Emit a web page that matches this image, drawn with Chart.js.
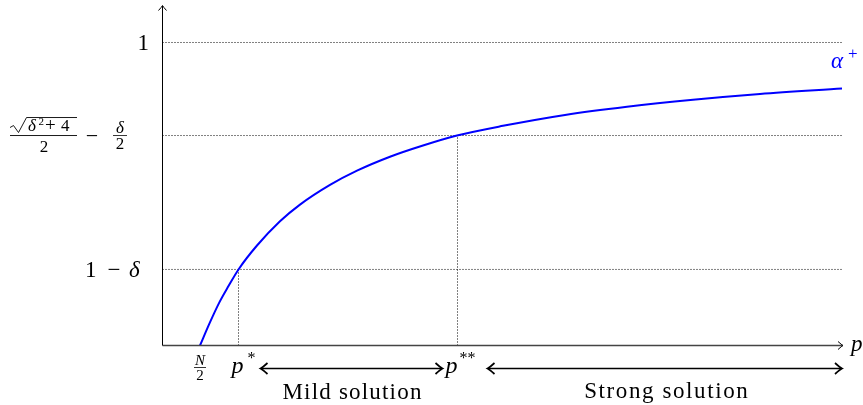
<!DOCTYPE html>
<html><head><meta charset="utf-8">
<script src="https://cdn.jsdelivr.net/npm/chart.js@4"></script>
<style>html,body{margin:0;padding:0;background:#fff}canvas{display:block}</style>
</head><body><canvas id="c" width="863" height="405"></canvas>
<script>
// curve alpha+(p) (arbitrary p units)
const pValues = [0.375, 0.47, 0.565, 0.66, 0.76, 0.945, 1.175, 1.375, 1.675, 1.945, 2.275, 2.605, 2.945, 3.405, 4.025, 4.645, 5.305, 5.975, 6.795];
const alphaValues = [0, 0.073, 0.14, 0.196, 0.251, 0.33, 0.41, 0.465, 0.53, 0.577, 0.623, 0.66, 0.693, 0.725, 0.761, 0.788, 0.811, 0.83, 0.848];
// y reference levels: 1, sqrt(d^2+4)/2 - d/2, 1 - d
const yLevels = [1, 0.693, 0.251];
// x marks: N/2, p*, p**
const xMarks = [0.375, 0.76, 2.95];
const regionLabels = ['Mild solution', 'Strong solution'];
const xMax = 6.805, yMax = 1.1221, guideEnd = 6.795;

const SERIF = '"Liberation Serif", "DejaVu Serif", serif';
const dotted = {borderColor: '#000', borderWidth: 1, borderDash: [1, 2], pointRadius: 0, showLine: true, fill: false};

const datasets = [
  {label: 'alpha+', data: pValues.map((p, i) => ({x: p, y: alphaValues[i]})), borderColor: '#0000ff', borderWidth: 2,
   pointRadius: 0, showLine: true, cubicInterpolationMode: 'monotone', fill: false},
  ...yLevels.map((v, i) => Object.assign({label: 'h' + i, data: [{x: 0, y: v}, {x: guideEnd, y: v}]}, dotted)),
  Object.assign({label: 'v1', data: [{x: xMarks[1], y: 0}, {x: xMarks[1], y: yLevels[2]}]}, dotted),
  Object.assign({label: 'v2', data: [{x: xMarks[2], y: 0}, {x: xMarks[2], y: yLevels[1]}]}, dotted)
];

function tipTo(ctx, x, y, ang, len, half) {
  ctx.save(); ctx.translate(x, y); ctx.rotate(ang);
  ctx.beginPath();
  ctx.moveTo(-len, -half);
  ctx.quadraticCurveTo(-len * 0.25, -half * 0.15, 0, 0);
  ctx.quadraticCurveTo(-len * 0.25, half * 0.15, -len, half);
  ctx.stroke(); ctx.restore();
}
function dblArrow(ctx, x1, x2, y) {
  ctx.save(); ctx.strokeStyle = '#000'; ctx.lineWidth = 1.7;
  ctx.beginPath(); ctx.moveTo(x1 + 1, y); ctx.lineTo(x2 - 1, y); ctx.stroke();
  tipTo(ctx, x1, y, Math.PI, 7, 5.5); tipTo(ctx, x2, y, 0, 7, 5.5);
  ctx.restore();
}
function frac(ctx, num, den, cx, cy, size, italicNum, barW) {
  ctx.save();
  ctx.textAlign = 'center'; ctx.textBaseline = 'alphabetic';
  ctx.font = (italicNum ? 'italic ' : '') + size + 'px ' + SERIF;
  const w = barW || (ctx.measureText(num).width + 3);
  ctx.fillText(num, cx, cy - 3);
  ctx.font = size + 'px ' + SERIF;
  ctx.fillText(den, cx, cy + size * 0.82);
  ctx.lineWidth = 0.8; ctx.beginPath(); ctx.moveTo(cx - w / 2, cy); ctx.lineTo(cx + w / 2, cy); ctx.stroke();
  ctx.restore();
}

const decor = {
  id: 'decor',
  afterDatasetsDraw(chart) {
    const ctx = chart.ctx, xs = chart.scales.x, ys = chart.scales.y;
    const x0 = xs.getPixelForValue(0), y0 = ys.getPixelForValue(0);
    const xEnd = xs.getPixelForValue(xMax), yTop = ys.getPixelForValue(yMax);
    ctx.save();
    // axes
    ctx.strokeStyle = '#444'; ctx.lineWidth = 1.3;
    ctx.beginPath(); ctx.moveTo(x0, y0); ctx.lineTo(xEnd - 0.5, y0); ctx.stroke();
    ctx.strokeStyle = '#000'; ctx.lineWidth = 1;
    ctx.beginPath(); ctx.moveTo(x0, y0); ctx.lineTo(x0, yTop + 0.5); ctx.stroke();
    tipTo(ctx, xEnd, y0, 0, 5, 4);
    tipTo(ctx, x0, yTop, -Math.PI / 2, 5, 4);
    ctx.fillStyle = '#000'; ctx.strokeStyle = '#000';
    // axis name p
    ctx.font = 'italic 23px ' + SERIF; ctx.textAlign = 'left'; ctx.textBaseline = 'alphabetic';
    ctx.fillText('p', xEnd + 8, y0 + 5);
    // y labels
    const yl0 = ys.getPixelForValue(yLevels[0]);
    ctx.textAlign = 'right'; ctx.font = '23px ' + SERIF;
    ctx.fillText('1', 149, yl0 + 8);
    const yl2 = ys.getPixelForValue(yLevels[2]);
    ctx.textAlign = 'left';
    ctx.fillText('1', 85, yl2 + 8);
    ctx.textAlign = 'center'; ctx.fillText('−', 114, yl2 + 8);
    ctx.textAlign = 'left'; ctx.font = 'italic 23px ' + SERIF;
    ctx.fillText('δ', 129, yl2 + 8);
    // sqrt formula label
    const yl1 = ys.getPixelForValue(yLevels[1]);
    ctx.lineWidth = 0.9;
    ctx.beginPath();
    ctx.moveTo(10, yl1 - 8); ctx.lineTo(13.5, yl1 - 10); ctx.lineTo(18.5, yl1 - 3);
    ctx.lineTo(26.5, yl1 - 18); ctx.lineTo(77, yl1 - 18);
    ctx.stroke();
    ctx.textAlign = 'left';
    ctx.font = 'italic 17px ' + SERIF; ctx.fillText('δ', 28, yl1 - 5);
    ctx.font = '11px ' + SERIF; ctx.fillText('2', 38.5, yl1 - 10.5);
    ctx.font = '19px ' + SERIF; ctx.fillText('+', 45, yl1 - 4.5);
    ctx.font = '17px ' + SERIF; ctx.fillText('4', 61, yl1 - 5);
    ctx.beginPath(); ctx.moveTo(10, yl1); ctx.lineTo(77, yl1); ctx.stroke();
    ctx.textAlign = 'center'; ctx.fillText('2', 44, yl1 + 16);
    ctx.font = '22px ' + SERIF; ctx.fillText('−', 92, yl1 + 7);
    frac(ctx, 'δ', '2', 120, yl1, 17, true, 14);
    // x marks
    const xN = xs.getPixelForValue(xMarks[0]);
    frac(ctx, 'N', '2', xN, y0 + 22, 15, true, 12);
    const xp1 = xs.getPixelForValue(xMarks[1]), xp2 = xs.getPixelForValue(xMarks[2]);
    const base = y0 + 27;
    ctx.textAlign = 'left';
    ctx.font = 'italic 24px ' + SERIF; ctx.fillText('p', xp1 - 7, base);
    ctx.font = '16px ' + SERIF; ctx.fillText('*', xp1 + 9, base - 10);
    ctx.font = 'italic 24px ' + SERIF; ctx.fillText('p', xp2 - 12, base);
    ctx.font = '16px ' + SERIF; ctx.fillText('**', xp2 + 2, base - 10);
    // region arrows
    const ay = y0 + 23;
    const m1 = xp1 + 22, m2 = xp2 - 15, s1 = xp2 + 30, s2 = xs.getPixelForValue(guideEnd);
    dblArrow(ctx, m1, m2, ay);
    dblArrow(ctx, s1, s2, ay);
    ctx.font = '23px ' + SERIF; ctx.textAlign = 'center';
    ctx.letterSpacing = '1.2px';
    ctx.fillText(regionLabels[0], (m1 + m2) / 2 + 1, y0 + 53);
    ctx.letterSpacing = '1.6px';
    ctx.fillText(regionLabels[1], (s1 + s2) / 2 + 2, y0 + 52);
    ctx.letterSpacing = '0px';
    // alpha+ label
    ctx.fillStyle = '#0000ff'; ctx.textAlign = 'left';
    ctx.font = 'italic 23px ' + SERIF; ctx.fillText('α', 831, 68);
    ctx.font = '17px ' + SERIF; ctx.fillText('+', 848, 59);
    ctx.restore();
  }
};

new Chart(document.getElementById('c'), {
  type: 'scatter',
  data: {datasets},
  options: {
    responsive: false, animation: false, devicePixelRatio: 1,
    layout: {padding: {left: 162.5, top: 5.5, right: 20, bottom: 59.5}},
    plugins: {legend: {display: false}, tooltip: {enabled: false}},
    scales: {
      x: {type: 'linear', min: 0, max: xMax, display: false},
      y: {type: 'linear', min: 0, max: yMax, display: false}
    }
  },
  plugins: [decor]
});
</script></body></html>
